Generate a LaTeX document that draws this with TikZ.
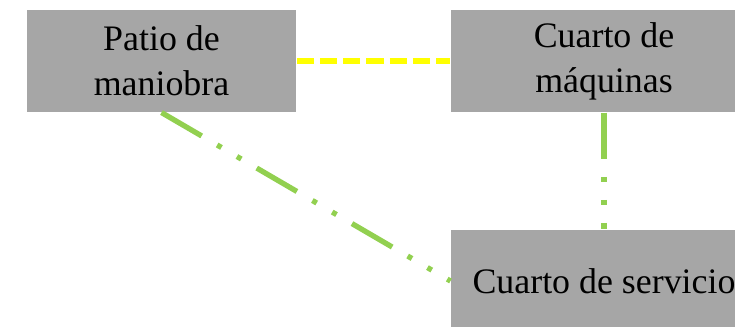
\documentclass[tikz,border=0pt]{standalone}
\usepackage{fontspec}
\setmainfont{Liberation Serif}
\definecolor{grisbox}{RGB}{166,166,166}
\definecolor{verdelin}{RGB}{146,208,80}
\definecolor{amarillo}{RGB}{255,255,0}
\begin{document}
\begin{tikzpicture}[line join=round,thick]
			\tikzset{every node/.style={font=\fontsize{27}{33.75}\selectfont},
				zona/.style={fill=grisbox,inner sep=0pt,minimum height=2.699cm,align=center},
				amarillo line/.style={amarillo,line width=4pt,dash pattern=on 13pt off 4.5pt},
				verde line/.style={verdelin,line width=4pt,dash pattern=on 35pt off 13.5pt on 3.75pt off 13.5pt on 3.75pt off 13.5pt}}
			\useasboundingbox (0,0) rectangle (19.447,-8.652);
			\begin{scope}
				\clip (0,0) rectangle (19.447,-8.652);
				\node[zona,minimum width=7.117cm] (patio) at (4.273,-1.614) {Patio de\\maniobra};
				\node[zona,minimum width=8.096cm] (maquinas) at (15.981,-1.614) {Cuarto de\\máquinas};
				\node[zona,minimum width=8.096cm] (servicio) at (15.981,-7.435) {Cuarto de servicio};
				\draw[amarillo line] (patio.east)--(maquinas.west);
				\draw[verde line] (maquinas.south)--(servicio.north);
				\draw[verde line] (patio.south)--(servicio.west);
			\end{scope}
		\end{tikzpicture}
\end{document}
